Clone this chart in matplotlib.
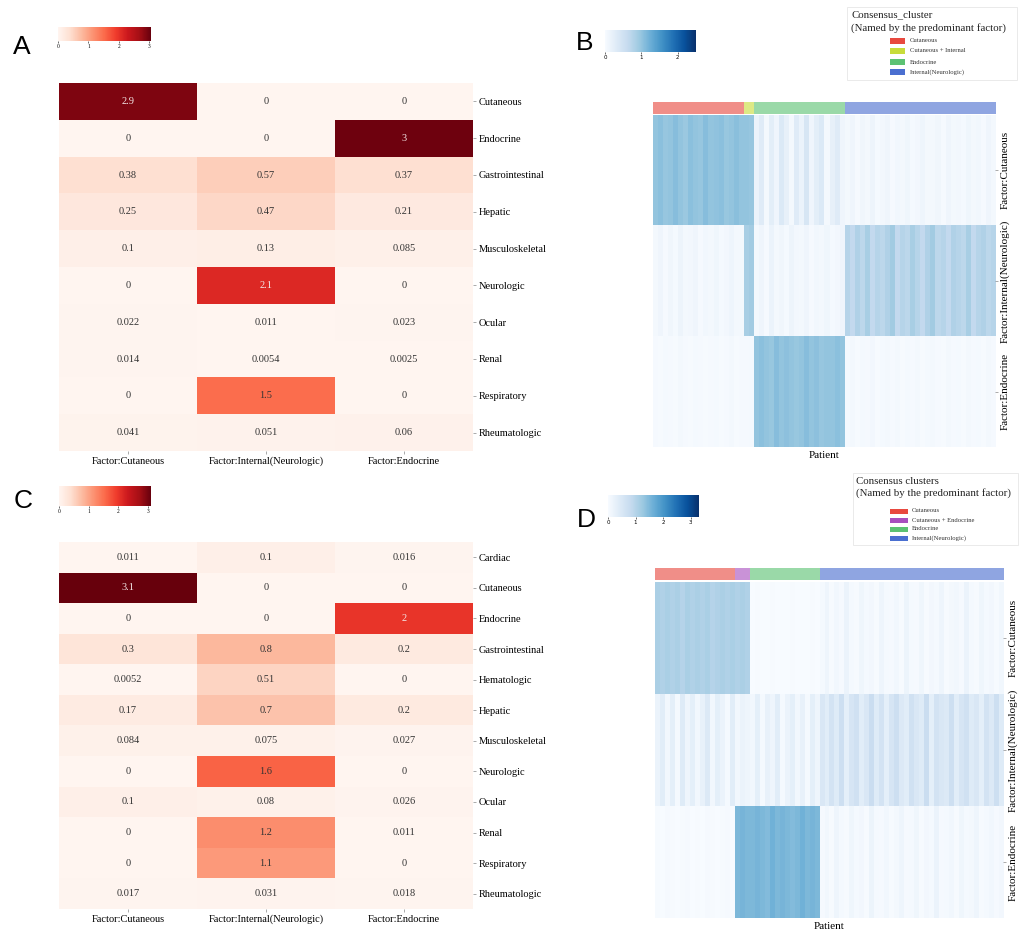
import numpy as np
import matplotlib
matplotlib.use('Agg')
import matplotlib.pyplot as plt
from matplotlib.colors import ListedColormap
from matplotlib.patches import Rectangle

# ---------------- data ----------------
factors = ['Factor:Cutaneous', 'Factor:Internal(Neurologic)', 'Factor:Endocrine']

a_rows = ['Cutaneous', 'Endocrine', 'Gastrointestinal', 'Hepatic', 'Musculoskeletal',
          'Neurologic', 'Ocular', 'Renal', 'Respiratory', 'Rheumatologic']
a_cut = [2.9, 0, 0.38, 0.25, 0.1, 0, 0.022, 0.014, 0, 0.041]
a_int = [0, 0, 0.57, 0.47, 0.13, 2.1, 0.011, 0.0054, 1.5, 0.051]
a_end = [0, 3, 0.37, 0.21, 0.085, 0, 0.023, 0.0025, 0, 0.06]

c_rows = ['Cardiac', 'Cutaneous', 'Endocrine', 'Gastrointestinal', 'Hematologic', 'Hepatic',
          'Musculoskeletal', 'Neurologic', 'Ocular', 'Renal', 'Respiratory', 'Rheumatologic']
c_cut = [0.011, 3.1, 0, 0.3, 0.0052, 0.17, 0.084, 0, 0.1, 0, 0, 0.017]
c_int = [0.1, 0, 0, 0.8, 0.51, 0.7, 0.075, 1.6, 0.08, 1.2, 1.1, 0.031]
c_end = [0.016, 0, 2, 0.2, 0, 0.2, 0.027, 0, 0.026, 0.011, 0, 0.018]

# Panel B: patient scores per cluster (rows: Cutaneous, Internal, Endocrine factor)
b_clusters = ['Cutaneous', 'Cutaneous + Internal', 'Endocrine', 'Internal(Neurologic)']
b_colors = ['#e8493f', '#c8dc3a', '#5cc273', '#4a6fd0']
b_cl1_cut = [1.0, 1.05, 0.98, 1.0, 1.08, 1.0, 0.95, 1.05, 1.0, 0.98, 1.08, 1.0, 1.02, 1.05, 0.97, 1.0, 1.06, 1.0]
b_cl1_int = [0.05, 0.1, 0.02, 0.08, 0.03, 0.12, 0.04, 0.06, 0.1, 0.02, 0.07, 0.05, 0.09, 0.03, 0.06, 0.11, 0.04, 0.05]
b_cl1_end = [0.02, 0.01, 0.03, 0.02, 0.01, 0.04, 0.02, 0.01, 0.03, 0.02, 0.01, 0.02, 0.03, 0.01, 0.02, 0.04, 0.01, 0.02]
b_cl2_cut = [1.0, 0.98]
b_cl2_int = [0.85, 0.9]
b_cl2_end = [0.02, 0.03]
b_cl3_cut = [0.15, 0.3, 0.05, 0.25, 0.1, 0.35, 0.2, 0.05, 0.3, 0.15, 0.4, 0.1, 0.25, 0.35, 0.05, 0.2, 0.3, 0.1]
b_cl3_int = [0.05, 0.1, 0.02, 0.15, 0.05, 0.08, 0.03, 0.12, 0.06, 0.04, 0.1, 0.02, 0.07, 0.05, 0.09, 0.03, 0.06, 0.1]
b_cl3_end = [1.0, 1.05, 1.0, 0.97, 1.08, 1.0, 1.04, 1.0, 0.97, 1.0, 1.08, 1.0, 1.04, 0.98, 1.0, 1.0, 1.05, 1.0]
b_cl4_cut = [0.05, 0.1, 0.02, 0.08, 0.04, 0.12, 0.03, 0.06, 0.1, 0.02, 0.07, 0.05, 0.09, 0.03, 0.06,
             0.11, 0.04, 0.05, 0.08, 0.02, 0.1, 0.04, 0.06, 0.03, 0.09, 0.05, 0.07, 0.02, 0.1, 0.04]
b_cl4_int = [0.75, 0.65, 0.8, 0.7, 0.85, 0.65, 0.75, 0.7, 0.8, 0.9, 0.65, 0.75, 0.7, 0.85, 0.75,
             0.65, 0.8, 0.9, 0.7, 0.75, 0.65, 0.8, 0.75, 0.7, 0.85, 0.65, 0.75, 0.8, 0.7, 0.75]
b_cl4_end = [0.02, 0.05, 0.01, 0.03, 0.02, 0.06, 0.01, 0.03, 0.04, 0.02, 0.05, 0.01, 0.03, 0.02, 0.04,
             0.01, 0.03, 0.05, 0.02, 0.01, 0.04, 0.02, 0.03, 0.01, 0.05, 0.02, 0.03, 0.01, 0.04, 0.02]

# Panel D
d_clusters = ['Cutaneous', 'Cutaneous + Endocrine', 'Endocrine', 'Internal(Neurologic)']
d_colors = ['#e8493f', '#a84fbf', '#5cc273', '#4a6fd0']
d_cl1_cut = [1.1, 1.05, 1.12, 1.05, 1.1, 1.0, 1.12, 1.05, 1.1, 1.05, 1.12, 1.0, 1.05, 1.1, 1.05, 1.12]
d_cl1_int = [0.2, 0.35, 0.1, 0.3, 0.05, 0.4, 0.15, 0.3, 0.1, 0.25, 0.45, 0.1, 0.3, 0.2, 0.05, 0.35]
d_cl1_end = [0.02, 0.01, 0.03, 0.02, 0.01, 0.02, 0.03, 0.01, 0.02, 0.01, 0.03, 0.02, 0.01, 0.02, 0.03, 0.01]
d_cl2_cut = [1.05, 1.1, 1.05]
d_cl2_int = [0.1, 0.2, 0.15]
d_cl2_end = [1.5, 1.55, 1.5]
d_cl3_cut = [0.01, 0.02, 0.01, 0.0, 0.02, 0.01, 0.0, 0.01, 0.02, 0.01, 0.0, 0.01, 0.02, 0.01]
d_cl3_int = [0.1, 0.3, 0.05, 0.25, 0.15, 0.35, 0.05, 0.2, 0.3, 0.1, 0.25, 0.05, 0.3, 0.15]
d_cl3_end = [1.5, 1.55, 1.5, 1.45, 1.6, 1.5, 1.55, 1.5, 1.45, 1.5, 1.6, 1.5, 1.55, 1.5]
d_cl4_cut = [0.05, 0.15, 0.02, 0.1, 0.03, 0.2, 0.05, 0.02, 0.12, 0.04, 0.08, 0.02, 0.15, 0.05, 0.03,
             0.1, 0.02, 0.18, 0.05, 0.03, 0.12, 0.02, 0.08, 0.04, 0.15, 0.02, 0.06, 0.1, 0.03, 0.2,
             0.05, 0.02, 0.12, 0.04, 0.08, 0.02, 0.1]
d_cl4_int = [0.5, 0.35, 0.6, 0.4, 0.7, 0.3, 0.55, 0.65, 0.35, 0.5, 0.75, 0.4, 0.6, 0.3, 0.55,
             0.7, 0.45, 0.35, 0.65, 0.5, 0.4, 0.75, 0.3, 0.6, 0.5, 0.45, 0.7, 0.35, 0.55, 0.65,
             0.4, 0.5, 0.3, 0.6, 0.45, 0.7, 0.4]
d_cl4_end = [0.03, 0.1, 0.02, 0.15, 0.05, 0.02, 0.12, 0.04, 0.08, 0.02, 0.18, 0.05, 0.03, 0.1, 0.02,
             0.06, 0.15, 0.03, 0.05, 0.12, 0.02, 0.08, 0.04, 0.2, 0.03, 0.05, 0.1, 0.02, 0.12, 0.04,
             0.06, 0.15, 0.02, 0.05, 0.1, 0.03, 0.08]

# ---------------- drawing ----------------
W, H = 1019, 932
fig = plt.figure(figsize=(W / 100, H / 100), dpi=100)
SERIF = 'Liberation Serif'


def axpx(x0, y0, x1, y1):
    return fig.add_axes([x0 / W, 1 - y1 / H, (x1 - x0) / W, (y1 - y0) / H])


def loading_heatmap(box, cbox, rows, cols, vmax, cticks):
    ax = axpx(*box)
    arr = np.array(cols).T
    im = ax.imshow(arr, cmap='Reds', vmin=0, vmax=vmax, aspect='auto', interpolation='nearest')
    for i in range(arr.shape[0]):
        for j in range(arr.shape[1]):
            v = arr[i, j]
            ax.text(j, i, f'{v:.2g}', ha='center', va='center', fontsize=7.5, family=SERIF,
                    color='#f3e6e6' if v > 0.6 * vmax else '#333333')
    ax.set_yticks(range(len(rows)))
    ax.set_yticklabels(rows, family=SERIF, fontsize=7.5)
    ax.yaxis.tick_right()
    ax.set_xticks(range(len(factors)))
    ax.set_xticklabels(factors, family=SERIF, fontsize=7.5)
    ax.tick_params(length=2, width=0.5, color='#888888', pad=2)
    for s in ax.spines.values():
        s.set_visible(False)
    cax = axpx(*cbox)
    cb = fig.colorbar(im, cax=cax, orientation='horizontal', ticks=cticks)
    cb.outline.set_visible(False)
    cax.tick_params(labelsize=4, length=1.5, width=0.4, pad=1)
    for t in cax.get_xticklabels():
        t.set_family(SERIF)


def cluster_heatmap(bar_box, hm_box, cbox, clusters, colors, blocks, vmax, cticks):
    rows_data = [np.concatenate([b[r] for b in blocks]) for r in range(3)]
    mat = np.vstack(rows_data)
    ncol = mat.shape[1]
    labels_idx = np.concatenate([[k] * len(b[0]) for k, b in enumerate(blocks)])
    bax = axpx(*bar_box)
    bax.imshow(labels_idx[None, :], cmap=ListedColormap(colors), vmin=-0.5, vmax=len(colors) - 0.5,
               aspect='auto', interpolation='nearest', alpha=0.62)
    bax.set_xticks([])
    bax.set_yticks([])
    for s in bax.spines.values():
        s.set_visible(False)
    ax = axpx(*hm_box)
    im = ax.imshow(mat, cmap='Blues', vmin=0, vmax=vmax, aspect='auto', interpolation='nearest',
                   extent=(-0.5, ncol - 0.5, 2.5, -0.5))
    ax.set_xticks([])
    ax.set_yticks(range(3))
    ax.set_yticklabels(factors, rotation=90, va='center', family=SERIF, fontsize=8)
    ax.yaxis.tick_right()
    ax.tick_params(length=2, width=0.5, color='#888888', pad=2)
    ax.set_xlabel('Patient', family=SERIF, fontsize=8, labelpad=3)
    for s in ax.spines.values():
        s.set_visible(False)
    cax = axpx(*cbox)
    cb = fig.colorbar(im, cax=cax, orientation='horizontal', ticks=cticks)
    cb.outline.set_visible(False)
    cax.tick_params(labelsize=4, length=1.5, width=0.4, pad=1)


def legend_px(box, title_lines, title_y, labels, colors, entry_y, patch_x, text_x, tx):
    x0, y0, x1, y1 = box
    fig.patches.append(Rectangle((x0 / W, 1 - y1 / H), (x1 - x0) / W, (y1 - y0) / H,
                                 transform=fig.transFigure, facecolor='white',
                                 edgecolor='#e6e6e6', linewidth=0.6))
    for line, yy in zip(title_lines, title_y):
        fig.text(tx / W, 1 - yy / H, line, family=SERIF, fontsize=7.8, va='center', ha='left',
                 color='#222222')
    for lab, col, yy in zip(labels, colors, entry_y):
        fig.patches.append(Rectangle((patch_x[0] / W, 1 - (yy + 2.5) / H),
                                     (patch_x[1] - patch_x[0]) / W, 5 / H,
                                     transform=fig.transFigure, facecolor=col, edgecolor='none'))
        fig.text(text_x / W, 1 - yy / H, lab, family=SERIF, fontsize=4.8, va='center', ha='left',
                 color='#333333')


# Panel A
loading_heatmap((59, 83, 473, 451), (58, 27, 151, 41), a_rows, [a_cut, a_int, a_end], 3.05, [0, 1, 2, 3])
# Panel C
loading_heatmap((59, 542, 473, 909), (59, 486, 151, 506), c_rows, [c_cut, c_int, c_end], 3.1, [0, 1, 2, 3])

# Panel B
b_blocks = [(b_cl1_cut, b_cl1_int, b_cl1_end), (b_cl2_cut, b_cl2_int, b_cl2_end),
            (b_cl3_cut, b_cl3_int, b_cl3_end), (b_cl4_cut, b_cl4_int, b_cl4_end)]
cluster_heatmap((653, 102, 995, 114), (653, 115, 995, 447), (605, 30, 696, 52),
                b_clusters, b_colors, b_blocks, 2.5, [0, 1, 2])
legend_px((847, 7, 1017, 80), ['Consensus_cluster', '(Named by the predominant factor)'], [15, 28],
          b_clusters, b_colors, [41, 51, 62, 72], (890, 905), 910, 851)

# Panel D
d_blocks = [(d_cl1_cut, d_cl1_int, d_cl1_end), (d_cl2_cut, d_cl2_int, d_cl2_end),
            (d_cl3_cut, d_cl3_int, d_cl3_end), (d_cl4_cut, d_cl4_int, d_cl4_end)]
cluster_heatmap((655, 568, 1003, 580), (655, 582, 1003, 918), (608, 495, 699, 517),
                d_clusters, d_colors, d_blocks, 3.3, [0, 1, 2, 3])
legend_px((853, 473, 1018, 545), ['Consensus clusters', '(Named by the predominant factor)'], [482, 493],
          d_clusters, d_colors, [511, 520, 529, 538], (890, 908), 912, 856)

# Panel letters
for letter, x, y in [('A', 22, 47), ('B', 585, 43), ('C', 23, 501), ('D', 586, 520)]:
    fig.text(x / W, 1 - y / H, letter, fontsize=19, family='Liberation Sans', ha='center', va='center')

fig.savefig('out.png', dpi=100, facecolor='white')
